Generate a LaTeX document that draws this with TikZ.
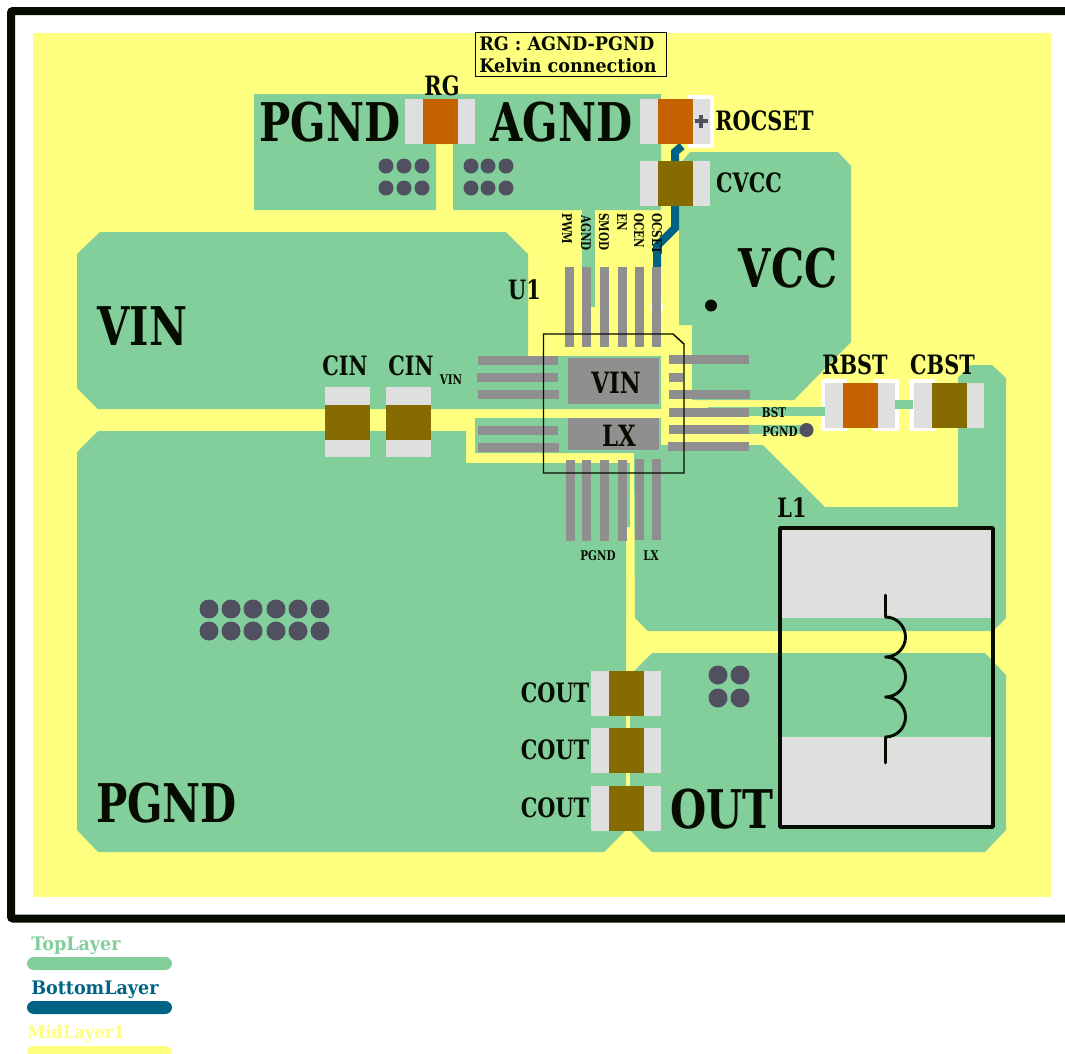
\documentclass[tikz,border=0pt]{standalone}
\usepackage{fontspec}
\setmainfont{DejaVu Serif}[FakeStretch=0.78]
\newfontfamily\widefont{DejaVu Serif}[FakeStretch=0.94]
\usepackage{tikz}
\definecolor{topgreen}{HTML}{82CF9C}
\definecolor{botblue}{HTML}{006386}
\definecolor{midyellow}{HTML}{FFFF7F}
\definecolor{padgrey}{HTML}{DFDFDF}
\definecolor{pingrey}{HTML}{8F8F8F}
\definecolor{capbrown}{HTML}{866C00}
\definecolor{resorange}{HTML}{C46200}
\definecolor{viadark}{HTML}{505060}
\definecolor{inkblack}{HTML}{060D00}
\tikzset{
	lbl/.style={inner sep=0pt,text=inkblack,font=\fontsize{#1}{#1}\selectfont\bfseries},
	widelbl/.style={inner sep=0pt,text=inkblack,font=\fontsize{#1}{#1}\selectfont\widefont\bfseries},
	pour/.style={fill=topgreen},
	pin/.style={fill=pingrey},
	via/.style={fill=viadark}
}
\newcommand{\partH}[3]{
	\fill[padgrey] (#1,#2) rectangle ++(70,45);
	\fill[#3] (#1+18,#2) rectangle ++(35,45);
}
\newcommand{\partV}[3]{
	\fill[padgrey] (#1,#2) rectangle ++(45,70);
	\fill[#3] (#1,#2+18) rectangle ++(45,35);
}
\begin{document}
\begin{tikzpicture}[x=0.75pt,y=-0.75pt]
	\clip (0,0) rectangle (1065,1054);
	\fill[white] (0,0) rectangle (1065,1054);
	\fill[midyellow] (33,33) rectangle (1051,897);
	\draw[inkblack,line width=6pt,rounded corners=1.5pt] (1080,11) -- (11,11) -- (11,918.5) -- (1080,918.5);
	\fill[pour] (254,94) -- (661,94) -- (661,210) -- (453,210) -- (453,144) -- (436,144) -- (436,210) -- (254,210) -- cycle;
	\fill[pour] (582,210) rectangle (595,307);
	\fill[pour] (582,307) rectangle (591,347);
	\fill[pour] (690,152) -- (838,152) -- (851,166) -- (851,342) -- (794,400) -- (692,400) -- (692,325) -- (679,325) -- (679,165) -- cycle;
	\fill[pour] (100,232) -- (506,232) -- (528,254) -- (528,356) -- (661,356) -- (661,409) -- (98,409) -- (77,388) -- (77,254) -- cycle;
	\fill[pour] (98,431) -- (466,431) -- (466,463) -- (630,463) -- (630,527) -- (626,527) -- (626,830) -- (604,852) -- (98,852) -- (77,830) -- (77,452) -- cycle;
	\fill[pour] (475,418) -- (661,418) -- (661,445) -- (763,445) -- (825,507) -- (958,507) -- (958,378) -- (970,365) -- (992,365) -- (1006,378) -- (1006,618) -- (993,631) -- (648,631) -- (635,618) -- (634,453) -- (475,453) -- cycle;
	\fill[pour] (652,653) -- (985,653) -- (1006,675) -- (1006,830) -- (985,852) -- (652,852) -- (630,830) -- (630,675) -- cycle;
	\fill[white] (688,95) rectangle (714,148);
	\fill[white] (821,379) rectangle (847,431);
	\fill[white] (873,379) rectangle (899,431);
	\fill[white] (909,379) rectangle (935,431);
	\fill[pour] (708,407) rectangle (825,416);
	\fill[pour] (669,425) rectangle (806,434);
	\fill[pour] (895,400) rectangle (913,409);
	\draw[botblue,line width=6pt] (682,146) -- (675,152) -- (675,228) -- (657,246) -- (657,267);
	\fill[white] (656.7,307) circle (6.5);
	\foreach \x in {565,582,600,618,635,652}
		\fill[pin] (\x,267) rectangle ++(9,80);
	\foreach \x in {566,582,600,618}
		\fill[pin] (\x,460) rectangle ++(9,81);
	\foreach \x in {635,652}
		\fill[pin] (\x,459) rectangle ++(9,81);
	\fill[pin] (478,356) rectangle (558,365);
	\fill[pin] (477,373) rectangle (558,382);
	\fill[pin] (478,390) rectangle (559,399);
	\fill[pin] (478,426) rectangle (558,435);
	\fill[pin] (478,443) rectangle (559,452);
	\fill[pin] (669,355) rectangle (749,364);
	\fill[pin] (669,373) rectangle (683,382);
	\fill[pin] (669,390) rectangle (750,399);
	\fill[pin] (669,408) rectangle (749,417);
	\fill[pin] (669,425) rectangle (749,434);
	\fill[pin] (668,442) rectangle (749,451);
	\fill[pin] (568,358) rectangle (659,404);
	\fill[pin] (568,418) rectangle (659,450);
	\fill[inkblack] (711,305.5) circle (6);
	\draw[inkblack,line width=1.1pt] (543.5,334) -- (673,334) -- (684,344) -- (684,473) -- (543.5,473) -- cycle;
	\foreach \x in {386,404,422,471,488,506}
		\foreach \y in {166,188}
			\fill[via] (\x,\y) circle (7.5);
	\foreach \x in {209,231,253,276,298,320}
		\foreach \y in {609,631}
			\fill[via] (\x,\y) circle (9.5);
	\foreach \x in {718,740}
		\foreach \y in {675,698}
			\fill[via] (\x,\y) circle (9.5);
	\fill[via] (806.5,430) circle (7);
	\partH{405}{99}{resorange}
	\partH{640}{99}{resorange}
	\partH{640}{161}{capbrown}
	\partH{825}{383}{resorange}
	\partH{913.5}{383}{capbrown}
	\foreach \y in {671,728,786}
		\partH{591}{\y}{capbrown}
	\foreach \x in {325,386}
		\partV{\x}{387}{capbrown}
	\draw[viadark,line width=3pt] (694.5,121) -- (707.5,121) (701,114.5) -- (701,127.5);
	\fill[padgrey] (781,528) rectangle (993,618);
	\fill[padgrey] (781,737) rectangle (993,827);
	\draw[inkblack,line width=2.6pt,line join=round] (780,528) rectangle (993,827);
	\draw[inkblack,line width=2.2pt,line cap=round,line join=round] (885.5,595) -- (885.5,617) arc (-90:90:20) arc (-90:90:20) arc (-90:90:20) -- (885.5,763);
	\node[draw=inkblack,line width=1.1pt,fill=midyellow,anchor=north west,inner sep=0pt,minimum width=143pt,minimum height=33pt] (notebox) at (475,32) {};
	\node[widelbl=14,anchor=west] (notea) at (479,44) {RG : AGND-PGND};
	\node[widelbl=14,anchor=west] (noteb) at (479,66) {Kelvin connection};
	\node[lbl=40] (pgndtop) at (330,122) {PGND};
	\node[lbl=40] (agndtop) at (561.5,122) {AGND};
	\node[lbl=40] (vinbig) at (142.5,326) {VIN};
	\node[lbl=40] (vccbig) at (788,268) {VCC};
	\node[lbl=40] (pgndbig) at (166.5,803) {PGND};
	\node[lbl=40] (outbig) at (722,809) {OUT};
	\node[lbl=20] (rglbl) at (442,86) {RG};
	\node[lbl=20] (rocsetlbl) at (764.5,121) {ROCSET};
	\node[lbl=20] (cvcclbl) at (749,183) {CVCC};
	\node[lbl=20] (u1lbl) at (524.5,290) {U1};
	\node[lbl=20] (cinalbl) at (345,366) {CIN};
	\node[lbl=20] (cinblbl) at (411,366) {CIN};
	\node[lbl=20] (rbstlbl) at (855,365) {RBST};
	\node[lbl=20] (cbstlbl) at (942.5,365) {CBST};
	\node[lbl=20] (l1lbl) at (792,508) {L1};
	\node[lbl=20] (coutalbl) at (555,693) {COUT};
	\node[lbl=20] (coutblbl) at (555,750) {COUT};
	\node[lbl=20] (coutclbl) at (555,808) {COUT};
	\node[lbl=22] (vincore) at (616,383) {VIN};
	\node[lbl=22] (lxcore) at (619,436) {LX};
	\node[lbl=10] (vinpin) at (451,380) {VIN};
	\node[lbl=10] (bstpin) at (774,413) {BST};
	\node[lbl=10] (pgndpin) at (780,432) {PGND};
	\node[lbl=10] (pgndbot) at (598,556) {PGND};
	\node[lbl=10] (lxbot) at (651,556) {LX};
	\node[lbl=10,rotate=-90,anchor=west] (pwmpin) at (567,213) {PWM};
	\node[lbl=10,rotate=-90,anchor=west] (agndpin) at (586,215) {AGND};
	\node[lbl=10,rotate=-90,anchor=west] (smodpin) at (604,213) {SMOD};
	\node[lbl=10,rotate=-90,anchor=west] (enpin) at (622,213) {EN};
	\node[lbl=10,rotate=-90,anchor=west] (ocenpin) at (639,213) {OCEN};
	\node[lbl=10,rotate=-90,anchor=west] (ocsetpin) at (657,213) {OCSET};
	\node[widelbl=14,text=topgreen,anchor=west] (toplbl) at (31,946) {TopLayer};
	\node[widelbl=14,text=botblue,anchor=west] (botlbl) at (31,990) {BottomLayer};
	\node[widelbl=13,text=midyellow,anchor=west] (midlbl) at (27,1034) {MidLayer1};
	\fill[topgreen,rounded corners=5pt] (27,957) rectangle (172,970);
	\fill[botblue,rounded corners=5pt] (27,1001) rectangle (172,1014);
	\fill[midyellow,rounded corners=5pt] (27,1046) rectangle (172,1059);
\end{tikzpicture}
\end{document}
